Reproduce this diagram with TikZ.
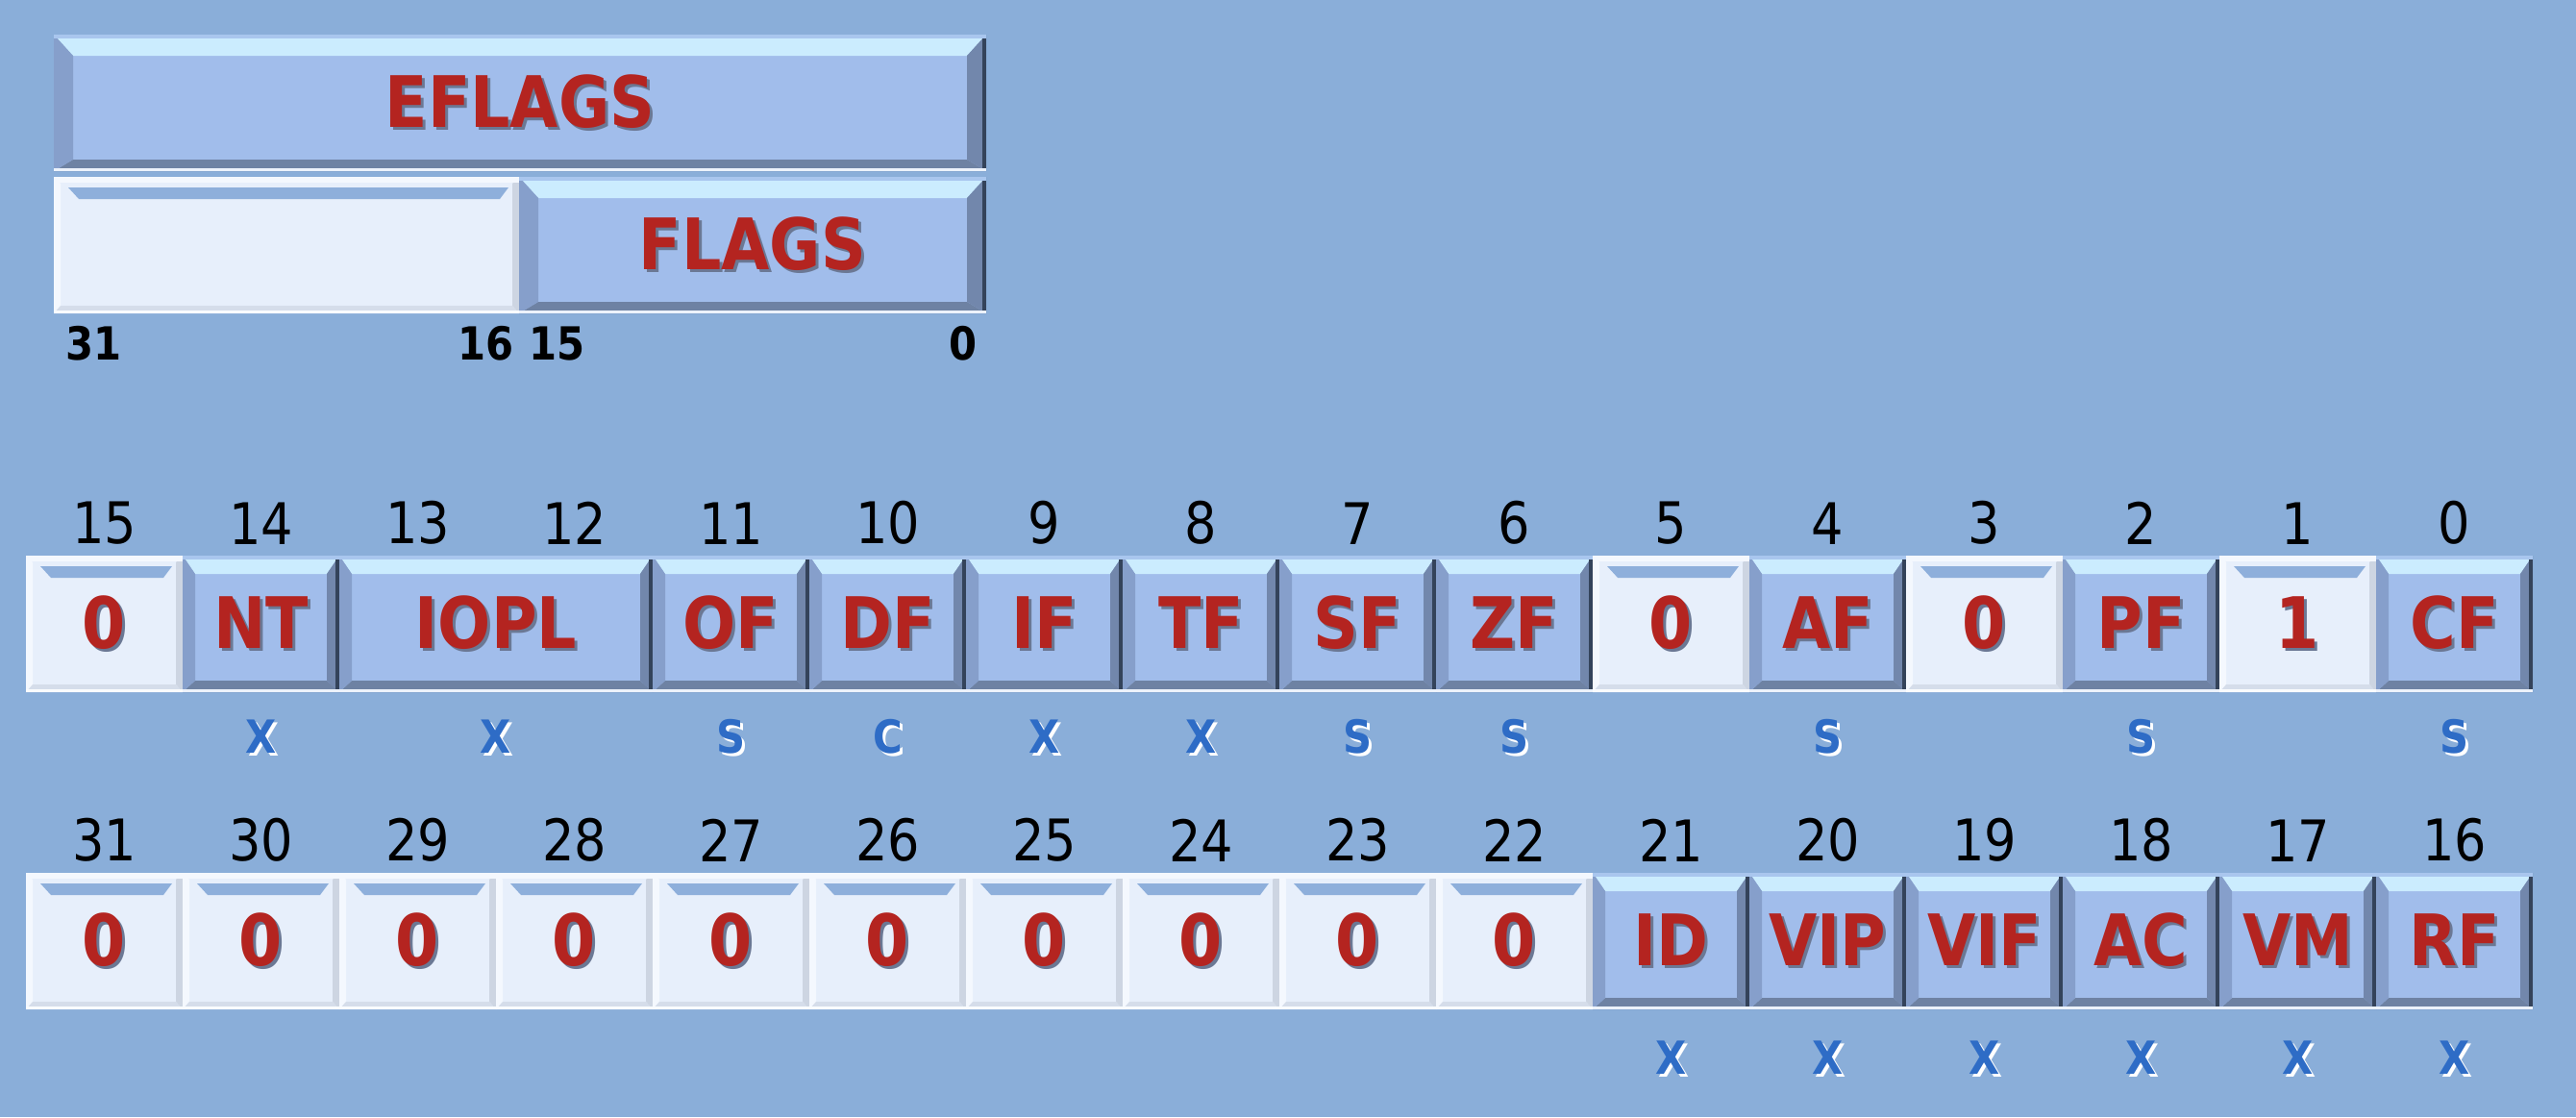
\documentclass[tikz,border=0pt]{standalone}
\usepackage{fontspec}
\usepackage{xcolor}
\usepackage{tikz}
\usetikzlibrary{positioning, calc}

\newfontfamily\tah{DejaVu Sans}[FakeStretch=0.88]

\definecolor{bgblue}{HTML}{8AAED9}
\definecolor{cellblue}{HTML}{A1BDEB}
\definecolor{bvtop}{HTML}{CBECFE}
\definecolor{bvtopline}{HTML}{A9C6EE}
\definecolor{bvleft}{HTML}{869FCB}
\definecolor{bvright}{HTML}{7287AC}
\definecolor{bvedge}{HTML}{34435A}
\definecolor{bvbot}{HTML}{6E82A3}
\definecolor{cellwhite}{HTML}{E7EFFB}
\definecolor{wvedge}{HTML}{CDD5E2}
\definecolor{wvlight}{HTML}{F4F8FE}
\definecolor{wvstrip}{HTML}{8EAFDB}
\definecolor{flagred}{HTML}{B42420}
\definecolor{bitblue}{HTML}{2E6CC6}
\definecolor{txtshadow}{HTML}{6B7894}

% text with a small drop shadow
\newcommand\shd[2][txtshadow]{\makebox[0pt][l]{\hspace{0.03cm}\raisebox{-0.03cm}{\textcolor{#1}{#2}}}#2}

% raised blue key: #1 top, #2 sides, #3 bottom
\newcommand\bluebevel[3]{%
  \path (path picture bounding box.south west) coordinate (bsw)
        (path picture bounding box.north east) coordinate (bne);
  \path (bsw|-bne) coordinate (bnw) (bsw-|bne) coordinate (bse);
  \fill[cellblue] (bsw) rectangle (bne);
  \fill[bvtop] (bnw) -- (bne) -- ($(bne)+(-#2,-#1)$) -- ($(bnw)+(#2,-#1)$) -- cycle;
  \fill[bvbot] (bsw) -- (bse) -- ($(bse)+(-#2,#3)$) -- ($(bsw)+(#2,#3)$) -- cycle;
  \fill[bvleft] (bsw) -- (bnw) -- ($(bnw)+(#2,-#1)$) -- ($(bsw)+(#2,#3)$) -- cycle;
  \fill[bvright] (bse) -- (bne) -- ($(bne)+(-#2,-#1)$) -- ($(bse)+(-#2,#3)$) -- cycle;
  \fill[bvedge] ($(bse)+(-0.045,0)$) rectangle (bne);
  \fill[bvtopline] (bnw) rectangle ($(bne)+(0,-0.035)$);
  \fill[white!80!cellblue] (bsw) rectangle ($(bse)+(0,0.03)$);
}

% flat white key with the blue notch on top
\newcommand\whitebevel{%
  \path (path picture bounding box.south west) coordinate (bsw)
        (path picture bounding box.north east) coordinate (bne);
  \path (bsw|-bne) coordinate (bnw) (bsw-|bne) coordinate (bse);
  \fill[cellwhite] (bsw) rectangle (bne);
  \fill[wvlight] (bsw) -- (bnw) -- ($(bnw)+(0.07,-0.07)$) -- ($(bsw)+(0.07,0.07)$) -- cycle;
  \fill[wvedge] (bse) -- (bne) -- ($(bne)+(-0.07,-0.07)$) -- ($(bse)+(-0.07,0.08)$) -- cycle;
  \fill[wvedge!70!cellwhite] (bsw) -- (bse) -- ($(bse)+(-0.07,0.08)$) -- ($(bsw)+(0.07,0.08)$) -- cycle;
  \fill[wvlight] (bnw) rectangle ($(bne)+(0,-0.06)$);
  \fill[wvstrip] ($(bnw)+(0.15,-0.11)$) -- ($(bne)+(-0.11,-0.11)$) -- ($(bne)+(-0.20,-0.23)$) -- ($(bnw)+(0.26,-0.23)$) -- cycle;
  \fill[white!80!cellwhite] (bsw) rectangle ($(bse)+(0,0.03)$);
}

\begin{document}
\begin{tikzpicture}[
    fbit/.style={minimum width=1.63cm, minimum height=1.42cm, inner sep=0pt, outer sep=0pt, text=flagred,
                 font=\tah\bfseries\fontsize{21}{24}\selectfont, path picture={\bluebevel{0.19}{0.13}{0.12}}},
    zbit/.style={fbit, path picture={\whitebevel}},
    wide/.style={minimum height=1.42cm, inner sep=0pt, outer sep=0pt, text=flagred,
                 font=\tah\bfseries\fontsize{21}{24}\selectfont, path picture={\bluebevel{0.22}{0.2}{0.12}}},
    bitno/.style={inner sep=0pt, font=\tah\fontsize{17}{20}\selectfont},
    acc/.style={inner sep=0pt, text=bitblue, font=\tah\bfseries\fontsize{13.5}{16}\selectfont},
    toplbl/.style={inner sep=0pt, font=\tah\bfseries\fontsize{13.5}{16}\selectfont},
]

\fill[bgblue] (0,0) rectangle (26.8,11.62);
\useasboundingbox (0,0) rectangle (26.8,11.62);

% register outline
\node[wide, minimum width=9.70cm, anchor=north west] (efl) at (0.56,11.26) {\shd{EFLAGS}};
\node[wide, minimum width=4.84cm, path picture={\whitebevel}, below right=0.06cm and 0cm of efl.south west] (hiw) {};
\node[wide, minimum width=4.86cm, right=0pt of hiw] (flg) {\shd{FLAGS}};

\node[toplbl, below right=0.13cm and 0.12cm of hiw.south west] (t31) {31};
\node[toplbl, below left=0.13cm and 0.05cm of hiw.south east] (t16) {16};
\node[toplbl, below right=0.13cm and 0.1cm of flg.south west] (t15) {15};
\node[toplbl, below left=0.13cm and 0.09cm of flg.south east] (t0) {0};

% bits 15..0
\node[zbit, anchor=north west] (r15) at (0.27,5.84) {\shd{0}};
\node[fbit, right=0pt of r15] (nt) {\shd{NT}};
\node[fbit, right=0pt of nt, minimum width=3.26cm] (iopl) {\shd{IOPL}};
\node[fbit, right=0pt of iopl] (of) {\shd{OF}};
\node[fbit, right=0pt of of] (df) {\shd{DF}};
\node[fbit, right=0pt of df] (if) {\shd{IF}};
\node[fbit, right=0pt of if] (tf) {\shd{TF}};
\node[fbit, right=0pt of tf] (sf) {\shd{SF}};
\node[fbit, right=0pt of sf] (zf) {\shd{ZF}};
\node[zbit, right=0pt of zf] (r5) {\shd{0}};
\node[fbit, right=0pt of r5] (af) {\shd{AF}};
\node[zbit, right=0pt of af] (r3) {\shd{0}};
\node[fbit, right=0pt of r3] (pf) {\shd{PF}};
\node[zbit, right=0pt of pf] (r1) {\shd{1}};
\node[fbit, right=0pt of r1] (cf) {\shd{CF}};

\node[bitno, above=0.11cm of r15] (n15) {15};
\node[bitno, above=0.11cm of nt] (n14) {14};
\node[bitno, above=0.11cm of iopl.north, xshift=-0.815cm] (n13) {13};
\node[bitno, above=0.11cm of iopl.north, xshift=0.815cm] (n12) {12};
\node[bitno, above=0.11cm of of] (n11) {11};
\node[bitno, above=0.11cm of df] (n10) {10};
\node[bitno, above=0.11cm of if] (n9) {9};
\node[bitno, above=0.11cm of tf] (n8) {8};
\node[bitno, above=0.11cm of sf] (n7) {7};
\node[bitno, above=0.11cm of zf] (n6) {6};
\node[bitno, above=0.11cm of r5] (n5) {5};
\node[bitno, above=0.11cm of af] (n4) {4};
\node[bitno, above=0.11cm of r3] (n3) {3};
\node[bitno, above=0.11cm of pf] (n2) {2};
\node[bitno, above=0.11cm of r1] (n1) {1};
\node[bitno, above=0.11cm of cf] (n0) {0};

\node[acc, below=0.28cm of nt] (ant) {\shd[white]{X}};
\node[acc, below=0.28cm of iopl] (aiopl) {\shd[white]{X}};
\node[acc, below=0.28cm of of] (aof) {\shd[white]{S}};
\node[acc, below=0.28cm of df] (adf) {\shd[white]{C}};
\node[acc, below=0.28cm of if] (aif) {\shd[white]{X}};
\node[acc, below=0.28cm of tf] (atf) {\shd[white]{X}};
\node[acc, below=0.28cm of sf] (asf) {\shd[white]{S}};
\node[acc, below=0.28cm of zf] (azf) {\shd[white]{S}};
\node[acc, below=0.28cm of af] (aaf) {\shd[white]{S}};
\node[acc, below=0.28cm of pf] (apf) {\shd[white]{S}};
\node[acc, below=0.28cm of cf] (acf) {\shd[white]{S}};

% bits 31..16
\node[zbit, anchor=north west] (r31) at (0.27,2.54) {\shd{0}};
\node[zbit, right=0pt of r31] (r30) {\shd{0}};
\node[zbit, right=0pt of r30] (r29) {\shd{0}};
\node[zbit, right=0pt of r29] (r28) {\shd{0}};
\node[zbit, right=0pt of r28] (r27) {\shd{0}};
\node[zbit, right=0pt of r27] (r26) {\shd{0}};
\node[zbit, right=0pt of r26] (r25) {\shd{0}};
\node[zbit, right=0pt of r25] (r24) {\shd{0}};
\node[zbit, right=0pt of r24] (r23) {\shd{0}};
\node[zbit, right=0pt of r23] (r22) {\shd{0}};
\node[fbit, right=0pt of r22] (id) {\shd{ID}};
\node[fbit, right=0pt of id] (vip) {\shd{VIP}};
\node[fbit, right=0pt of vip] (vif) {\shd{VIF}};
\node[fbit, right=0pt of vif] (ac) {\shd{AC}};
\node[fbit, right=0pt of ac] (vm) {\shd{VM}};
\node[fbit, right=0pt of vm] (rf) {\shd{RF}};

\node[bitno, above=0.11cm of r31] (n31) {31};
\node[bitno, above=0.11cm of r30] (n30) {30};
\node[bitno, above=0.11cm of r29] (n29) {29};
\node[bitno, above=0.11cm of r28] (n28) {28};
\node[bitno, above=0.11cm of r27] (n27) {27};
\node[bitno, above=0.11cm of r26] (n26) {26};
\node[bitno, above=0.11cm of r25] (n25) {25};
\node[bitno, above=0.11cm of r24] (n24) {24};
\node[bitno, above=0.11cm of r23] (n23) {23};
\node[bitno, above=0.11cm of r22] (n22) {22};
\node[bitno, above=0.11cm of id] (n21) {21};
\node[bitno, above=0.11cm of vip] (n20) {20};
\node[bitno, above=0.11cm of vif] (n19) {19};
\node[bitno, above=0.11cm of ac] (n18) {18};
\node[bitno, above=0.11cm of vm] (n17) {17};
\node[bitno, above=0.11cm of rf] (n16) {16};

\node[acc, below=0.32cm of id] (aid) {\shd[white]{X}};
\node[acc, below=0.32cm of vip] (avip) {\shd[white]{X}};
\node[acc, below=0.32cm of vif] (avif) {\shd[white]{X}};
\node[acc, below=0.32cm of ac] (aac) {\shd[white]{X}};
\node[acc, below=0.32cm of vm] (avm) {\shd[white]{X}};
\node[acc, below=0.32cm of rf] (arf) {\shd[white]{X}};

\end{tikzpicture}
\end{document}
